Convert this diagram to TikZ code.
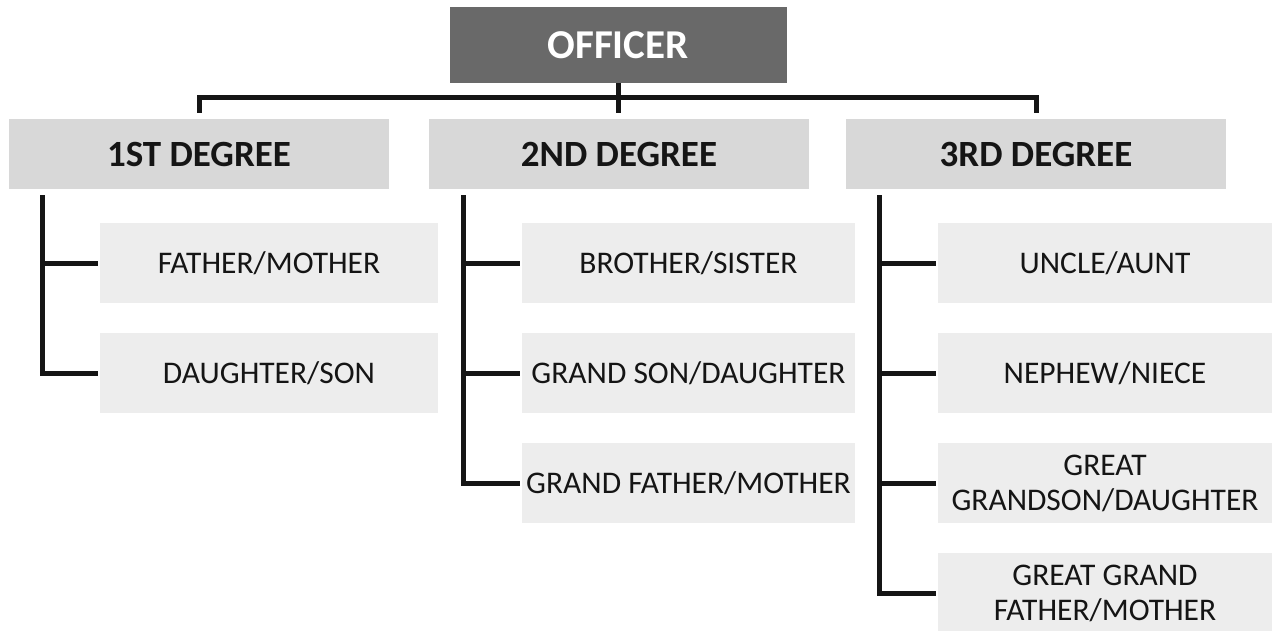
\documentclass[tikz,border=0pt]{standalone}
\usepackage{fontspec}
\setmainfont{Carlito}
\usetikzlibrary{calc}
\definecolor{offgray}{HTML}{696969}
\definecolor{deggray}{HTML}{D8D8D8}
\definecolor{childgray}{HTML}{EDEDED}
\definecolor{ink}{HTML}{151515}
\begin{document}
\begin{tikzpicture}[x=1pt,y=-1pt,
  topbox/.style={rectangle,fill=offgray,inner sep=0pt,minimum width=337pt,minimum height=76pt,text=white,font=\fontsize{41}{48}\selectfont\bfseries},
  degbox/.style={rectangle,fill=deggray,inner sep=0pt,minimum width=380pt,minimum height=70pt,text=ink,font=\fontsize{37}{42}\selectfont\bfseries},
  childbox/.style={rectangle,fill=childgray,inner sep=0pt,minimum height=80pt,text=ink,align=center,font=\fontsize{31.5}{35}\selectfont},
  conn/.style={draw=ink,line width=5pt,line cap=butt,line join=miter},
  branch/.style={conn,shorten >=2pt}]
\useasboundingbox[fill=white] (0,0) rectangle (1275,630);

\node[topbox] (officer) at (618,45) {OFFICER};

\node[degbox] (d1) at (199,154) {1ST DEGREE};
\node[degbox] (d2) at (619,154) {2ND DEGREE};
\node[degbox] (d3) at (1036,154) {3RD DEGREE};

\node[childbox,minimum width=338pt] (c11) at (269,263) {FATHER/MOTHER};
\node[childbox,minimum width=338pt] (c12) at (269,373) {DAUGHTER/SON};

\node[childbox,minimum width=333pt] (c21) at (688.5,263) {BROTHER/SISTER};
\node[childbox,minimum width=333pt] (c22) at (688.5,373) {GRAND SON/DAUGHTER};
\node[childbox,minimum width=333pt] (c23) at (688.5,483) {GRAND FATHER/MOTHER};

\node[childbox,minimum width=334pt] (c31) at (1105,263) {UNCLE/AUNT};
\node[childbox,minimum width=334pt] (c32) at (1105,373) {NEPHEW/NIECE};
\node[childbox,minimum width=334pt] (c33) at (1105,483) {GREAT\\GRANDSON/DAUGHTER};
\node[childbox,minimum width=334pt] (c34) at (1105,593) {GREAT GRAND\\FATHER/MOTHER};

% top connectors
\coordinate (bus) at ($(officer.south)+(0,14)$);
\draw[conn] (officer.south) -- ([yshift=6pt]officer.south |- d2.north);
\draw[conn] ([yshift=6pt]d1.north) |- (bus) -| ([yshift=6pt]d3.north);

% column spines
\coordinate (v1) at ([xshift=34pt,yshift=-6pt]d1.south west);
\coordinate (v2) at ([xshift=35pt,yshift=-6pt]d2.south west);
\coordinate (v3) at ([xshift=34pt,yshift=-6pt]d3.south west);

\draw[branch] (v1) |- (c12.west);
\draw[branch] (v1 |- c11.west) -- (c11.west);

\draw[branch] (v2) |- (c23.west);
\draw[branch] (v2 |- c21.west) -- (c21.west);
\draw[branch] (v2 |- c22.west) -- (c22.west);

\draw[branch] (v3) |- (c34.west);
\draw[branch] (v3 |- c31.west) -- (c31.west);
\draw[branch] (v3 |- c32.west) -- (c32.west);
\draw[branch] (v3 |- c33.west) -- (c33.west);
\end{tikzpicture}
\end{document}
